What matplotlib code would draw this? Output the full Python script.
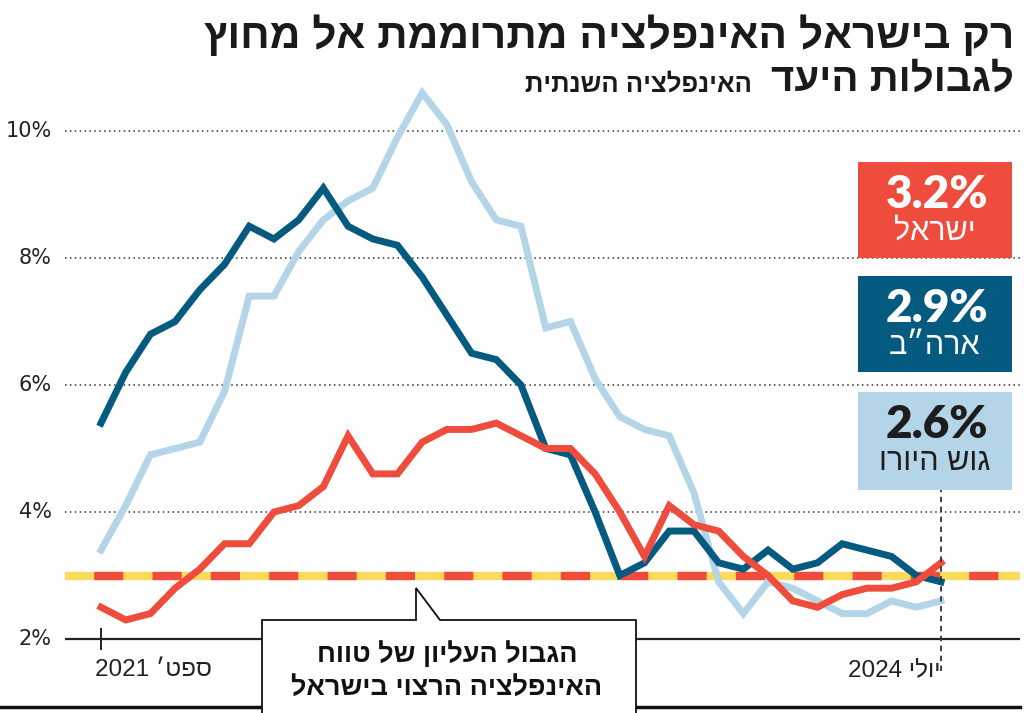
import matplotlib
matplotlib.use("Agg")
import matplotlib.pyplot as plt
from matplotlib.patches import Rectangle, Polygon
from matplotlib.lines import Line2D
import numpy as np

# ---------------- data ----------------
months = list(range(35))  # Sep 2021 .. Jul 2024
israel = [2.5, 2.3, 2.4, 2.8, 3.1, 3.5, 3.5, 4.0, 4.1, 4.4, 5.2, 4.6, 4.6, 5.1, 5.3, 5.3,
          5.4, 5.2, 5.0, 5.0, 4.6, 4.0, 3.3, 4.1, 3.8, 3.7, 3.3, 3.0, 2.6, 2.5, 2.7, 2.8,
          2.8, 2.9, 3.2]
usa = [5.4, 6.2, 6.8, 7.0, 7.5, 7.9, 8.5, 8.3, 8.6, 9.1, 8.5, 8.3, 8.2, 7.7, 7.1, 6.5,
       6.4, 6.0, 5.0, 4.9, 4.0, 3.0, 3.2, 3.7, 3.7, 3.2, 3.1, 3.4, 3.1, 3.2, 3.5, 3.4,
       3.3, 3.0, 2.9]
euro = [3.4, 4.1, 4.9, 5.0, 5.1, 5.9, 7.4, 7.4, 8.1, 8.6, 8.9, 9.1, 9.9, 10.6, 10.1, 9.2,
        8.6, 8.5, 6.9, 7.0, 6.1, 5.5, 5.3, 5.2, 4.3, 2.9, 2.4, 2.9, 2.8, 2.6, 2.4, 2.4,
        2.6, 2.5, 2.6]
target = 3.0
yticks = [2, 4, 6, 8, 10]
ytick_labels = ["2%", "4%", "6%", "8%", "10%"]
x_labels = {0: "ספט׳ 2021", 34: "יולי 2024"}
series_names = ["ישראל", "ארה״ב", "גוש היורו"]
last_values = ["3.2%", "2.9%", "2.6%"]
title1 = "רק בישראל האינפלציה מתרוממת אל מחוץ"
title2 = "לגבולות היעד"
subtitle = "האינפלציה השנתית"
callout = ["הגבול העליון של טווח", "האינפלציה הרצוי בישראל"]

RED = "#EF4C3D"
DARK = "#045B7F"
LIGHT = "#B4D5E7"
YELLOW = "#FBDB5E"
HEB = ["Liberation Sans", "DejaVu Sans"]


def rtl(s):
    """Visual order for pure Hebrew text."""
    return s[::-1]


def rtl_num(s):
    """Hebrew word(s) followed by a number: number goes left."""
    words = s.split(" ")
    heb = " ".join(words[:-1])
    return words[-1] + " " + rtl(heb)


W, H = 1024, 713
fig = plt.figure(figsize=(W / 100, H / 100), dpi=100)


def P(x, y):
    return x / W, (H - y) / H


# axes: x from 65 to 1020 px, y from 80 to 706 px
ax = fig.add_axes([65 / W, (H - 706) / H, (1020 - 65) / W, (706 - 80) / H])
px_per_month = (941 - 101) / 34
ax.set_xlim(-(101 - 65) / px_per_month, 34 + (1020 - 941) / px_per_month)
px_per_pct = 63.5
ax.set_ylim(2 - (706 - 639) / px_per_pct, 2 + (639 - 80) / px_per_pct)
ax.axis("off")

# grid lines
for v in yticks[1:]:
    ax.axhline(v, color="#333333", lw=1.1, ls=(0, (1, 2.2)), zorder=1)
ax.axhline(2, color="#222222", lw=1.6, zorder=1)
ax.plot([0, 0], [1.85, 2.15], color="#222222", lw=1.4, zorder=1)

# target band
ax.axhline(target, color=YELLOW, lw=6, zorder=2, solid_capstyle="butt")
ax.axhline(target, color=RED, lw=6, zorder=2.1, ls=(3.5, (3.5, 3.5)), dash_capstyle="butt")

# series
ax.plot(months, euro, color=LIGHT, lw=5, zorder=3, solid_joinstyle="miter")
ax.plot(months, usa, color=DARK, lw=5, zorder=4, solid_joinstyle="miter")
ax.plot(months, israel, color=RED, lw=5, zorder=5, solid_joinstyle="miter")

# dashed marker line at last month
ax.plot([34, 34], [1.5, 4.35], color="#333333", lw=1.3, ls=(0, (3, 2.5)), zorder=6)

# y tick labels
for v, lab in zip(yticks, ytick_labels):
    x0, y0 = P(52, 639 - (v - 2) * px_per_pct)
    fig.text(x0, y0, lab, ha="right", va="center", fontsize=15,
             family=["Liberation Sans Narrow", "DejaVu Sans"], color="#222222")

# x labels
fig.text(*P(95, 670), rtl_num(x_labels[0]), ha="left", va="center", fontsize=17.5,
         family=["Liberation Sans Narrow"] + HEB, color="#222222")
fig.text(*P(941, 670), rtl_num(x_labels[34]), ha="right", va="center", fontsize=17.5,
         family=["Liberation Sans Narrow"] + HEB, color="#222222")

# bottom rule
fig.add_artist(Line2D([0, 1020 / W], [(H - 707) / H] * 2, color="#111111", lw=2.5))

# callout
box_pts = [P(262, 713), P(262, 620), P(416, 620), P(416, 588), P(440, 620),
           P(636, 620), P(636, 713)]
fig.add_artist(Polygon(box_pts, closed=False, facecolor="white", edgecolor="#111111",
                       lw=1.3, zorder=10))
fig.text(*P(447, 655), rtl(callout[0]), ha="center", va="center", fontsize=19.5,
         fontweight="bold", family=HEB, color="#111111", zorder=11)
fig.text(*P(447, 688), rtl(callout[1]), ha="center", va="center", fontsize=19.5,
         fontweight="bold", family=HEB, color="#111111", zorder=11)

# value boxes
boxes = [(162, 258, RED, "white"), (276, 372, DARK, "white"), (392, 490, LIGHT, "#1d1d1d")]
for (y0, y1, fc, tc), name, val in zip(boxes, series_names, last_values):
    fig.add_artist(Rectangle(P(858, y1), (1012 - 858) / W, (y1 - y0) / H,
                             facecolor=fc, edgecolor="none", zorder=10))
    fig.text(*P(937, y0 + 33), val, ha="center", va="center", fontsize=33,
             fontweight="heavy", family=["Lato", "DejaVu Sans"], color=tc, zorder=11)
    fig.text(*P(935, y0 + 70), rtl(name), ha="center", va="center", fontsize=22,
             family=HEB, color=tc, zorder=11)

# titles
fig.text(*P(1014, 36), rtl(title1), ha="right", va="center", fontsize=30.5,
         fontweight="bold", family=HEB, color="#1a1a1a")
fig.text(*P(1014, 80), rtl(title2), ha="right", va="center", fontsize=29,
         fontweight="bold", family=HEB, color="#1a1a1a")
fig.text(*P(752, 84), rtl(subtitle), ha="right", va="center", fontsize=18.5,
         fontweight="bold", family=HEB, color="#1a1a1a")

fig.savefig("out.png", dpi=100)
